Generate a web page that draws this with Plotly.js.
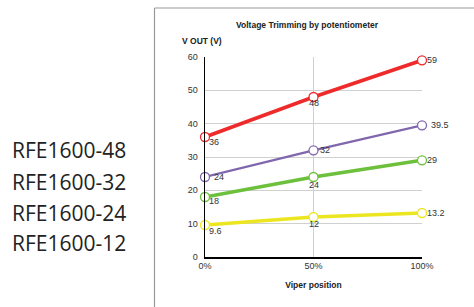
<!DOCTYPE html>
<html><head><meta charset="utf-8">
<script src="https://cdn.plot.ly/plotly-3.0.1.min.js"></script>
<style>html,body{margin:0;padding:0;background:#fff}#chart{width:474px;height:307px}</style>
</head><body><div id="chart"></div>
<script>
const positions = [0, 50, 100];
const seriesNames = ['RFE1600-48', 'RFE1600-32', 'RFE1600-24', 'RFE1600-12'];
const v48 = [36, 48, 59];
const v32 = [24, 32, 39.5];
const v24 = [18, 24, 29];
const v12 = [9.6, 12, 13.2];
const yTicks = [0, 10, 20, 30, 40, 50, 60];

const colors = ['#ee2a2a', '#8066ad', '#6cc03c', '#ece620'];
const widths = [3.6, 2.2, 3.5, 3.5];
const allVals = [v48, v32, v24, v12];
// label placement per point: [xanchor, xshift, yshift]
const labelPlace = [
  [['left', 3, -5], ['center', 0, -6], ['left', 4, 0]],
  [['left', 8, 0], ['left', 5, 0], ['left', 8, 0]],
  [['left', 3, -4], ['center', 0, -7.5], ['left', 4, 0]],
  [['left', 3, -6], ['center', 0, -7], ['left', 4, 0]]
];

const traces = allVals.map((vals, i) => ({
  x: positions, y: vals, name: seriesNames[i],
  type: 'scatter', mode: 'lines+markers',
  line: {color: colors[i], width: widths[i]},
  marker: {size: 9, color: '#fff', line: {color: colors[i], width: 1.3}},
  cliponaxis: false, showlegend: false, hoverinfo: 'skip'
}));

const px = x => (x - 205) / 217;
const py = y => (257 - y) / 200;

const annotations = seriesNames.map((n, i) => ({
  text: n, xref: 'paper', yref: 'paper', x: px(10), y: py([150, 182, 213, 243][i]),
  xanchor: 'left', yanchor: 'middle', showarrow: false,
  font: {family: 'Open Sans', size: 21, color: '#222'}
}));
annotations.push({
  text: '<b>V OUT (V)</b>', xref: 'paper', yref: 'paper', x: px(180), y: py(41),
  xanchor: 'left', yanchor: 'middle', showarrow: false,
  font: {family: 'Liberation Sans, Arial', size: 8.5, color: '#222'}
});
allVals.forEach((vals, i) => vals.forEach((v, j) => {
  const p = labelPlace[i][j];
  annotations.push({
    x: positions[j], y: v, xref: 'x', yref: 'y', text: String(v), showarrow: false,
    xanchor: p[0], yanchor: 'middle', xshift: p[1], yshift: p[2], borderpad: 0,
    font: {family: 'Liberation Sans, Arial', size: 9, color: '#333'}
  });
}));

const layout = {
  width: 474, height: 307,
  margin: {l: 205, r: 52, t: 57, b: 50},
  paper_bgcolor: '#fff', plot_bgcolor: '#fff',
  title: {text: '<b>Voltage Trimming by potentiometer</b>', x: px(307), xref: 'paper', y: 1 - 25/307, yanchor: 'middle',
    font: {family: 'Liberation Sans, Arial', size: 8.5, color: '#222'}},
  xaxis: {range: [0, 100], tickvals: positions, ticktext: positions.map(p => p + '%'),
    showgrid: true, gridcolor: '#d0d0d0', gridwidth: 1.2, zeroline: false,
    showline: true, linecolor: '#000', linewidth: 1.5, ticks: '',
    tickfont: {family: 'Liberation Sans, Arial', size: 9, color: '#333'},
    title: {text: '<b>Viper position</b>', standoff: 12, font: {family: 'Liberation Sans, Arial', size: 8.5, color: '#222'}},
    fixedrange: true},
  yaxis: {range: [0, 60], tickvals: yTicks, showgrid: true, gridcolor: '#d0d0d0', gridwidth: 1,
    zeroline: false, showline: true, linecolor: '#000', linewidth: 1.5, ticks: '',
    tickfont: {family: 'Liberation Sans, Arial', size: 9, color: '#333'}, ticklabelstandoff: 4,
    fixedrange: true},
  shapes: [
    {type: 'line', xref: 'paper', yref: 'paper', x0: px(154.5), x1: px(480), y0: py(8), y1: py(8), line: {color: '#999', width: 1.2}},
    {type: 'line', xref: 'paper', yref: 'paper', x0: px(154.5), x1: px(154.5), y0: py(8), y1: py(310), line: {color: '#999', width: 1.2}}
  ],
  annotations: annotations
};

Plotly.newPlot('chart', traces, layout, {displayModeBar: false, staticPlot: true});
</script></body></html>
